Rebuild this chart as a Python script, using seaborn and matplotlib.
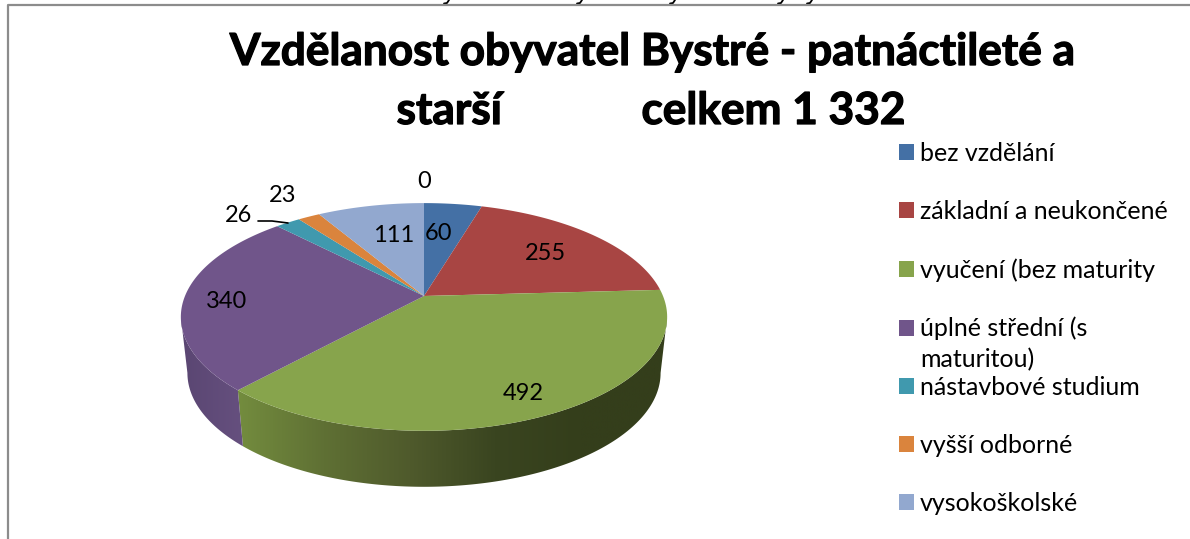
import numpy as np
import matplotlib
matplotlib.use('Agg')
import matplotlib.pyplot as plt
import matplotlib.colors as mcolors
import matplotlib.patheffects as pe
from matplotlib.patches import Patch, Polygon
import seaborn as sns

title_lines = ['Vzdělanost obyvatel Bystré - patnáctileté a', 'starší             celkem 1 332']
categories = ['bez vzdělání', 'základní a neukončené', 'vyučení (bez maturity',
              'úplné střední (s', 'nástavbové studium', 'vyšší odborné', 'vysokoškolské']
values = [60, 255, 492, 340, 26, 23, 111]
label_texts = ['60', '255', '492', '340', '26', '23', '111']
palette = ['#4470A5', '#A84543', '#87A44C', '#70558A', '#4099AE', '#DA843D', '#92A8CF']

sns.set_theme(style='white')
plt.rcParams['font.family'] = ['Lato', 'DejaVu Sans']
colors = sns.color_palette(palette)

# pie geometry in pixels of the picture
cx, cy = 424, 296
sx, sy = 239, 110
k = 0.184
depth = 56
shrink = 0.973


def top_rim(theta):
    # theta is clockwise from 12 o'clock
    u, v = np.sin(theta), np.cos(theta)
    w = 1 + k * v
    return cx + sx * u / w, cy - sy * v / w


def low_rim(theta):
    x, y = top_rim(theta)
    return cx + (x - cx) * shrink, y + depth


fig = plt.figure(figsize=(11.9, 5.39), dpi=100)
ax = fig.add_axes([0, 0, 1, 1])
ax.axis('off')

edges = np.concatenate([[0], np.cumsum(values)]) / sum(values) * 2 * np.pi

# side wall, only between the widest points of the rim
widest = np.arccos(-k)
side_colors = {2: ['#738C3E', '#5F7034', '#4F5A2C', '#3A4520', '#343E1B', '#343E1B'],
               3: ['#66507F', '#5A4672']}
side_extent = {2: (238, 667), 3: (181, 245)}
for i in (2, 3):
    lo = max(edges[i], widest)
    hi = min(edges[i + 1], 2 * np.pi - widest)
    t = np.linspace(lo, hi, 200)
    xa, ya = top_rim(t)
    xb, yb = low_rim(t[::-1])
    poly = Polygon(np.c_[np.r_[xa, xb], np.r_[ya, yb]], closed=True, transform=ax.transData,
                   facecolor='none', edgecolor='none')
    ax.add_patch(poly)
    cmap = mcolors.LinearSegmentedColormap.from_list('side%d' % i, side_colors[i])
    x0, x1 = side_extent[i]
    grad = np.linspace(0, 1, 256).reshape(1, -1)
    if i == 3:
        grad = grad[:, ::-1]
    im = ax.imshow(grad, cmap=cmap, extent=(x0, x1, 500, 200), aspect='auto', zorder=2)
    im.set_clip_path(poly)

ax.set_xlim(0, 1190)
ax.set_ylim(539, 0)

# top face
for i, (start, end) in enumerate(zip(edges[:-1], edges[1:])):
    t = np.linspace(start, end, 120)
    x, y = top_rim(t)
    ax.fill(np.r_[cx, x], np.r_[cy, y], color=colors[i], lw=0, zorder=3)

# value labels, placed by hand like in the original
label_pos = [(439, 234), (545, 253), (523, 394), (227, 302), (239, 216), (283, 196), (394, 235)]
for txt, (lx, ly) in zip(label_texts, label_pos):
    ax.text(lx, ly, txt, ha='center', va='center', fontsize=17, color='black', zorder=5)
ax.text(424, 182, '0', ha='center', va='center', fontsize=17, color='black', zorder=5)
ax.plot([258, 272, 288], [221, 221, 223], color='black', lw=1.2, zorder=5)

# title, Lato bold is lighter than the original so thicken it a bit
thick = [pe.withStroke(linewidth=0.9, foreground='black')]
ax.text(652, 52, title_lines[0], ha='center', va='center', fontsize=31.8, fontweight='bold',
        color='black', path_effects=thick)
ax.text(651, 111, title_lines[1], ha='center', va='center', fontsize=31.8, fontweight='bold',
        color='black', path_effects=thick)

# legend
handles = [Patch(facecolor=c, edgecolor='none') for c in colors]
leg = ax.legend(handles, categories, loc='upper left', bbox_to_anchor=(899 / 1190, 1 - 141.5 / 539),
                frameon=False, fontsize=18, handlelength=0.6, handleheight=0.6, labelcolor='black',
                handletextpad=0.24, labelspacing=1.41, borderpad=0, borderaxespad=0)
ax.text(920, 360, 'maturitou)', ha='left', va='center', fontsize=18, color='black')

# frame of the embedded picture
ax.plot([7.5, 7.5, 1190], [539, 5, 5], color='#8C8C8C', lw=1.6, zorder=6)

# ends of the document line cut off above the frame
for x0 in [447, 580, 673, 781, 810]:
    ax.plot([x0 + 2, x0, x0 - 3], [0, 3, 3.5], color='black', lw=1.3, zorder=5)

fig.savefig('out.png', dpi=100)
